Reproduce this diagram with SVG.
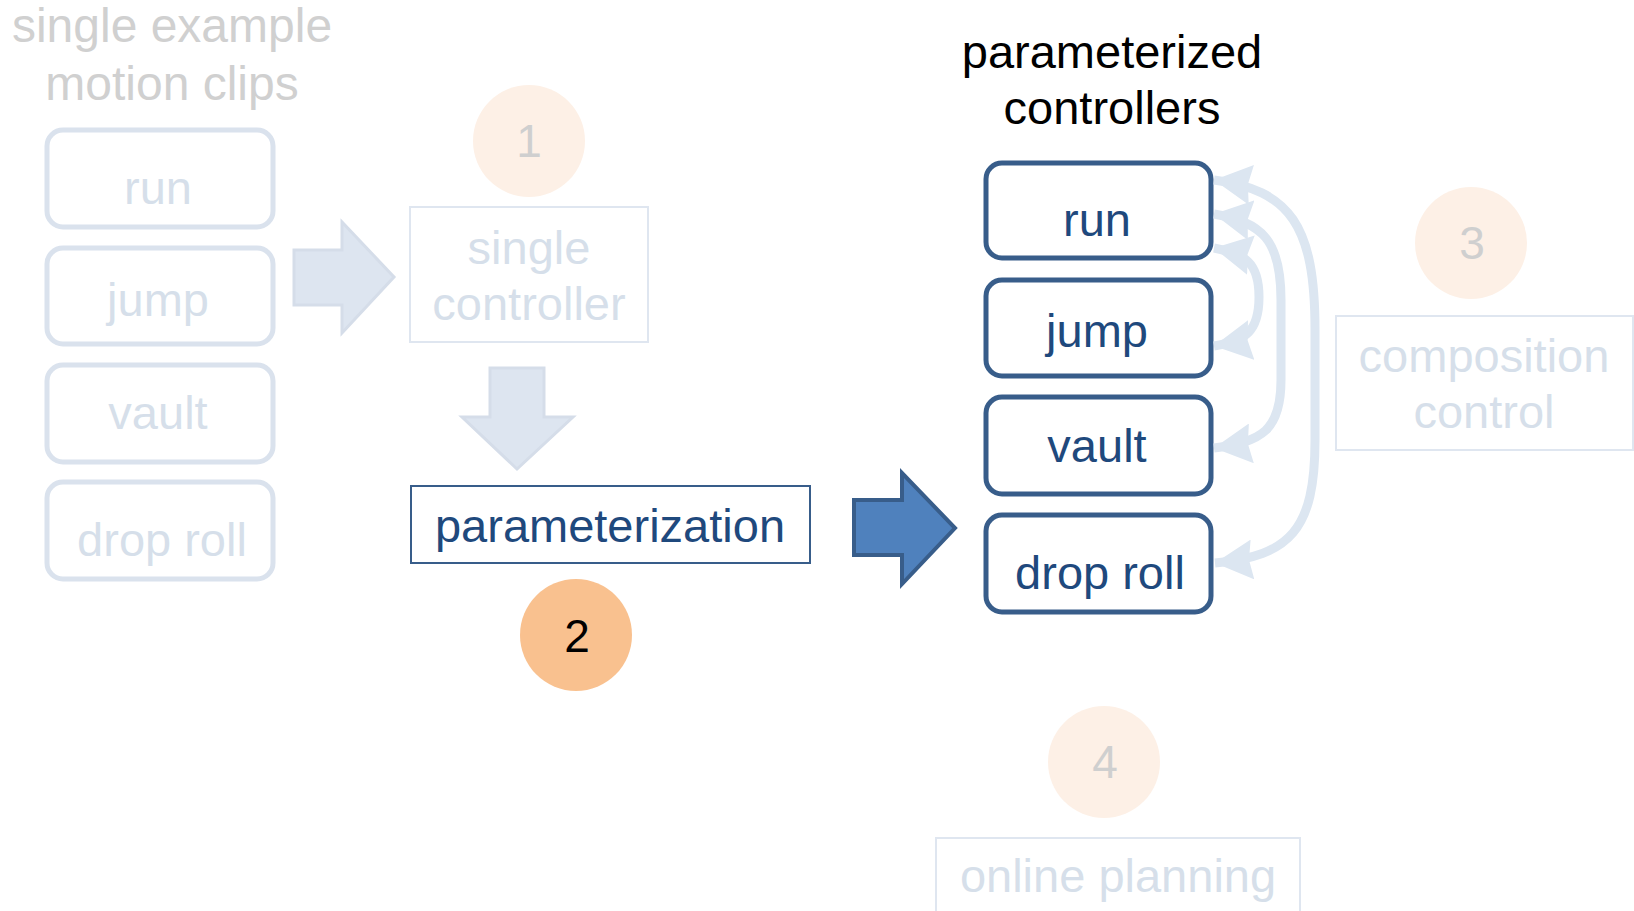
<svg xmlns="http://www.w3.org/2000/svg" width="1634" height="911" viewBox="0 0 1634 911">
<style>
text{font-family:"Liberation Sans",Arial,sans-serif;text-anchor:middle}
.gray{fill:#d0d0d0;font-size:48px}
.fbox{fill:#fff;stroke:#dae2ed;stroke-width:5}
.ftxt{fill:#d6dfea;font-size:47px}
.fthin{fill:#fff;stroke:#dfe6f0;stroke-width:2}
.pale{fill:#fdf0e6}
.num{fill:#cfcfcf;font-size:46px}
.dbox{fill:#fff;stroke:#385d8a;stroke-width:5}
.dtxt{fill:#1f497d;font-size:47px}
.arc{fill:none;stroke:#dce6f1;stroke-width:9}
</style>
<defs>
<marker id="ah" markerUnits="userSpaceOnUse" markerWidth="40" markerHeight="40" refX="32" refY="17" orient="auto-start-reverse" viewBox="0 0 34 34">
<path d="M0 0 L32 17 L0 34 L3 17 Z" fill="#dce6f1"/>
</marker>
</defs>
<rect width="1634" height="911" fill="#fff"/>

<g id="title-left">
<text class="gray" x="172" y="42">single example</text>
<text class="gray" x="172" y="100">motion clips</text>
</g>

<g id="clip-run"><rect class="fbox" x="47" y="130" width="226" height="97" rx="16"/><text class="ftxt" x="158" y="204">run</text></g>
<g id="clip-jump"><rect class="fbox" x="47" y="248" width="226" height="96" rx="16"/><text class="ftxt" x="158" y="316">jump</text></g>
<g id="clip-vault"><rect class="fbox" x="47" y="365" width="226" height="97" rx="16"/><text class="ftxt" x="158" y="429">vault</text></g>
<g id="clip-droproll"><rect class="fbox" x="47" y="482" width="226" height="97" rx="16"/><text class="ftxt" x="162" y="556">drop roll</text></g>

<g id="step1">
<circle class="pale" cx="529" cy="141" r="56"/>
<text class="num" x="529" y="157">1</text>
</g>
<g id="single-controller">
<rect class="fthin" x="410" y="207" width="238" height="135"/>
<text class="ftxt" x="529" y="264">single</text>
<text class="ftxt" x="529" y="320">controller</text>
</g>

<g id="parameterization">
<rect x="411" y="486" width="399" height="77" fill="#fff" stroke="#385d8a" stroke-width="2"/>
<text class="dtxt" x="610" y="542">parameterization</text>
</g>
<g id="step2">
<circle cx="576" cy="635" r="56" fill="#f9c18f"/>
<text x="577" y="652" fill="#000" font-size="46">2</text>
</g>

<g id="title-right">
<text x="1112" y="68" fill="#000" font-size="47">parameterized</text>
<text x="1112" y="124" fill="#000" font-size="47">controllers</text>
</g>

<g id="ctrl-run"><rect class="dbox" x="986" y="163" width="225" height="95" rx="16"/><text class="dtxt" x="1097" y="236">run</text></g>
<g id="ctrl-jump"><rect class="dbox" x="986" y="280" width="225" height="96" rx="16"/><text class="dtxt" x="1097" y="347">jump</text></g>
<g id="ctrl-vault"><rect class="dbox" x="986" y="397" width="225" height="97" rx="16"/><text class="dtxt" x="1097" y="462">vault</text></g>
<g id="ctrl-droproll"><rect class="dbox" x="986" y="515" width="225" height="97" rx="16"/><text class="dtxt" x="1100" y="589">drop roll</text></g>

<g id="step3">
<circle class="pale" cx="1471" cy="243" r="56"/>
<text class="num" x="1472" y="259">3</text>
</g>
<g id="composition-control">
<rect class="fthin" x="1336" y="316" width="297" height="134"/>
<text class="ftxt" x="1484" y="372">composition</text>
<text class="ftxt" x="1484" y="428">control</text>
</g>

<g id="step4">
<circle class="pale" cx="1104" cy="762" r="56"/>
<text class="num" x="1105" y="778">4</text>
</g>
<g id="online-planning">
<rect class="fthin" x="936" y="838" width="364" height="90"/>
<text class="ftxt" x="1118" y="892">online planning</text>
</g>

<g id="connectors">
<path d="M294 250 H342 V222 L394 277 L342 333 V305 H294 Z" fill="#dde5f0" stroke="#d5dde9" stroke-width="3"/>
<path d="M490 368 H544 V417 H573 L517 469 L462 417 H490 Z" fill="#dde5f0" stroke="#d5dde9" stroke-width="3"/>
<path d="M854 500 H902 V473 L955 528 L902 584 V555 H854 Z" fill="#4f81bd" stroke="#385d8a" stroke-width="4"/>
<path class="arc" d="M1214 248 C1245 254 1259 262 1259 297 C1259 332 1245 341 1214 346" marker-start="url(#ah)" marker-end="url(#ah)"/>
<path class="arc" d="M1214 214 C1262 222 1281 240 1281 300 L1281 380 C1281 430 1262 442 1214 448" marker-start="url(#ah)" marker-end="url(#ah)"/>
<path class="arc" d="M1214 180 C1290 190 1315 225 1315 330 L1315 440 C1315 530 1290 556 1215 563" marker-start="url(#ah)" marker-end="url(#ah)"/>
</g>
</svg>
